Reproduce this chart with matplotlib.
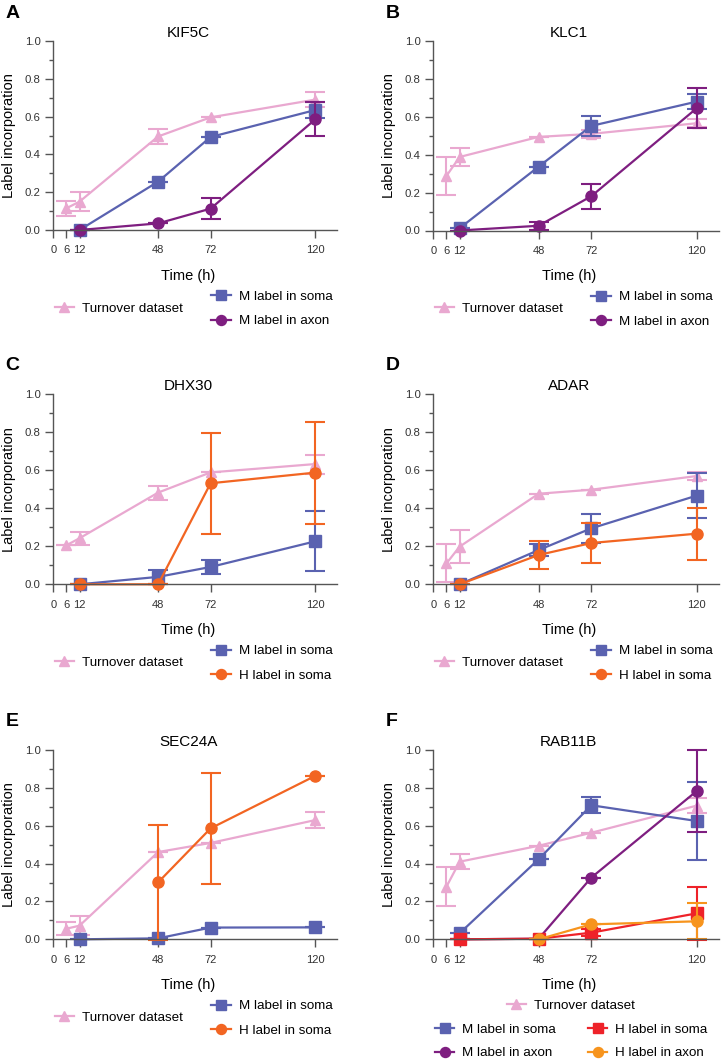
import matplotlib
matplotlib.use("Agg")
import matplotlib.pyplot as plt
from matplotlib.lines import Line2D

plt.rcParams['font.family'] = ['Liberation Sans', 'DejaVu Sans']

# time points (h)
x_ticks = [0, 6, 12, 48, 72, 120]
turn_t = [6, 12, 48, 72, 120]
lab_t = [12, 48, 72, 120]
late_t = [48, 72, 120]

# A  KIF5C
kif5c_turn = [0.115, 0.15, 0.495, 0.596, 0.69]
kif5c_turn_err = [0.04, 0.05, 0.04, 0.0, 0.04]
kif5c_m_soma = [0.0, 0.256, 0.492, 0.635]
kif5c_m_soma_err = [0.0, 0.0, 0.0, 0.04]
kif5c_m_axon = [0.0, 0.035, 0.113, 0.586]
kif5c_m_axon_err = [0.0, 0.0, 0.057, 0.09]

# B  KLC1
klc1_turn = [0.288, 0.388, 0.494, 0.51, 0.566]
klc1_turn_err = [0.1, 0.045, 0.0, 0.02, 0.02]
klc1_m_soma = [0.012, 0.337, 0.552, 0.68]
klc1_m_soma_err = [0.0, 0.0, 0.053, 0.04]
klc1_m_axon = [0.0, 0.025, 0.181, 0.645]
klc1_m_axon_err = [0.0, 0.02, 0.067, 0.105]

# C  DHX30
dhx30_turn = [0.205, 0.242, 0.482, 0.588, 0.632]
dhx30_turn_err = [0.0, 0.035, 0.037, 0.0, 0.05]
dhx30_m_soma = [0.0, 0.039, 0.091, 0.226]
dhx30_m_soma_err = [0.0, 0.035, 0.037, 0.158]
dhx30_h_soma = [0.0, 0.0, 0.531, 0.587]
dhx30_h_soma_err = [0.0, 0.0, 0.265, 0.268]

# D  ADAR
adar_turn = [0.11, 0.198, 0.476, 0.497, 0.569]
adar_turn_err = [0.1, 0.087, 0.0, 0.0, 0.02]
adar_m_soma = [0.0, 0.18, 0.294, 0.466]
adar_m_soma_err = [0.0, 0.03, 0.075, 0.117]
adar_h_soma = [0.0, 0.154, 0.217, 0.266]
adar_h_soma_err = [0.0, 0.076, 0.107, 0.137]

# E  SEC24A
sec24a_turn = [0.056, 0.072, 0.461, 0.509, 0.63]
sec24a_turn_err = [0.035, 0.05, 0.0, 0.0, 0.04]
sec24a_m_soma = [0.0, 0.005, 0.062, 0.063]
sec24a_m_soma_err = [0.0, 0.0, 0.0, 0.0]
sec24a_h_soma = [0.301, 0.586, 0.864]
sec24a_h_soma_err = [0.303, 0.295, 0.0]

# F  RAB11B
rab11b_turn = [0.278, 0.41, 0.494, 0.563, 0.706]
rab11b_turn_err = [0.103, 0.04, 0.0, 0.0, 0.04]
rab11b_m_soma = [0.032, 0.423, 0.708, 0.625]
rab11b_m_soma_err = [0.0, 0.0, 0.042, 0.205]
rab11b_m_axon = [0.0, 0.003, 0.326, 0.783]
rab11b_m_axon_err = [0.0, 0.0, 0.0, 0.218]
rab11b_h_soma = [0.0, 0.003, 0.035, 0.137]
rab11b_h_soma_err = [0.0, 0.0, 0.02, 0.14]
rab11b_h_axon = [0.0, 0.079, 0.095]
rab11b_h_axon_err = [0.0, 0.0, 0.095]

PINK = '#E9A8D0'
BLUE = '#5A62B0'
PURPLE = '#7E1E80'
ORANGE_RED = '#F26522'
RED = '#EE2229'
ORANGE = '#F7941D'
AXIS = '#555555'

STYLE = {
    'Turnover dataset': (PINK, '^', 7.5),
    'M label in soma': (BLUE, 's', 8),
    'M label in axon': (PURPLE, 'o', 8),
    'H label in soma': (ORANGE_RED, 'o', 8),
    'H label in soma F': (RED, 's', 8),
    'H label in axon': (ORANGE, 'o', 8),
}

W, H = 721, 1064
fig = plt.figure(figsize=(W / 100, H / 100), dpi=100)


def fpx(x, y):
    return x / W, 1 - y / H


def add_panel(left, top, width, height):
    x0, y1 = fpx(left, top)
    return fig.add_axes([x0, y1 - height / H, width / W, height / H])


def handle(key):
    c, m, s = STYLE[key]
    return Line2D([], [], color=c, marker=m, markersize=s * 0.9, lw=1.6)


def draw(ax, letter, title, series):
    for i, (t, v, e, key) in enumerate(series):
        c, m, s = STYLE[key]
        cont = ax.errorbar(t, v, yerr=e, color=c, marker=m, markersize=s,
                           lw=1.6, capsize=7, capthick=1.5, elinewidth=1.5)
        for art in cont.get_children():
            art.set_clip_on(False)
            art.set_zorder(2 + i * 0.1)
        cont[0].set_zorder(2 + i * 0.1 + 0.05)
    ax.set_xlim(0, 130)
    ax.set_ylim(0, 1.0)
    ax.spines['top'].set_visible(False)
    ax.spines['right'].set_visible(False)
    for sp in ('left', 'bottom'):
        ax.spines[sp].set_color(AXIS)
        ax.spines[sp].set_linewidth(1.0)
    ax.set_xticks(x_ticks)
    ax.set_yticks([0, 0.2, 0.4, 0.6, 0.8, 1.0])
    ax.set_yticks([0.1, 0.3, 0.5, 0.7, 0.9], minor=True)
    ax.set_yticklabels(['0.0', '0.2', '0.4', '0.6', '0.8', '1.0'])
    ax.tick_params(axis='x', length=6, width=1.0, color=AXIS, labelsize=8,
                   labelcolor='#333333', pad=5)
    ax.tick_params(axis='y', which='major', length=6, width=1.0, color=AXIS,
                   labelsize=8.2, labelcolor='#333333', pad=3)
    ax.tick_params(axis='y', which='minor', length=3, width=1.0, color=AXIS)
    ax.set_title(title, fontsize=11, pad=3, x=0.475)
    ax.set_xlabel('Time (h)', fontsize=10.5)
    ax.xaxis.set_label_coords(0.475, -0.205)
    ax.set_ylabel('Label incorporation', fontsize=10.5)
    ax.yaxis.set_label_coords(-0.13, 0.5)
    bb = ax.get_position()
    fig.text(bb.x0 - 48 / W, bb.y1 + 28 / H, letter, fontsize=14,
             fontweight='bold', va='center', ha='left')


LEG_KW = dict(frameon=False, fontsize=9.6, borderpad=0, borderaxespad=0,
              handlelength=1.45, handletextpad=0.6, loc='center left')


def two_legends(ax, left, bottom, right_keys):
    l1 = ax.legend([handle('Turnover dataset')], ['Turnover dataset'],
                   bbox_to_anchor=fpx(left + 1.5, bottom + 78.5),
                   bbox_transform=fig.transFigure, **LEG_KW)
    ax.add_artist(l1)
    labels = [k.replace(' F', '') for k in right_keys]
    ax.legend([handle(k) for k in right_keys], labels, labelspacing=0.9,
              bbox_to_anchor=fpx(left + 158, bottom + 79),
              bbox_transform=fig.transFigure, **LEG_KW)


# panel geometry in pixels: left, top, width, height
ax_a = add_panel(53.3, 41, 284, 189)
ax_b = add_panel(433.3, 41, 285.3, 189.5)
ax_c = add_panel(53.3, 394, 284, 190.3)
ax_d = add_panel(433.3, 394, 285.3, 190.3)
ax_e = add_panel(53.3, 750, 284, 189.3)
ax_f = add_panel(433.3, 750, 285.3, 189.3)

draw(ax_a, 'A', 'KIF5C', [
    (turn_t, kif5c_turn, kif5c_turn_err, 'Turnover dataset'),
    (lab_t, kif5c_m_soma, kif5c_m_soma_err, 'M label in soma'),
    (lab_t, kif5c_m_axon, kif5c_m_axon_err, 'M label in axon'),
])
two_legends(ax_a, 53.3, 230, ['M label in soma', 'M label in axon'])

draw(ax_b, 'B', 'KLC1', [
    (turn_t, klc1_turn, klc1_turn_err, 'Turnover dataset'),
    (lab_t, klc1_m_soma, klc1_m_soma_err, 'M label in soma'),
    (lab_t, klc1_m_axon, klc1_m_axon_err, 'M label in axon'),
])
two_legends(ax_b, 433.3, 230.5, ['M label in soma', 'M label in axon'])

draw(ax_c, 'C', 'DHX30', [
    (turn_t, dhx30_turn, dhx30_turn_err, 'Turnover dataset'),
    (lab_t, dhx30_m_soma, dhx30_m_soma_err, 'M label in soma'),
    (lab_t, dhx30_h_soma, dhx30_h_soma_err, 'H label in soma'),
])
two_legends(ax_c, 53.3, 584.3, ['M label in soma', 'H label in soma'])

draw(ax_d, 'D', 'ADAR', [
    (turn_t, adar_turn, adar_turn_err, 'Turnover dataset'),
    (lab_t, adar_m_soma, adar_m_soma_err, 'M label in soma'),
    (lab_t, adar_h_soma, adar_h_soma_err, 'H label in soma'),
])
two_legends(ax_d, 433.3, 584.3, ['M label in soma', 'H label in soma'])

draw(ax_e, 'E', 'SEC24A', [
    (turn_t, sec24a_turn, sec24a_turn_err, 'Turnover dataset'),
    (lab_t, sec24a_m_soma, sec24a_m_soma_err, 'M label in soma'),
    (late_t, sec24a_h_soma, sec24a_h_soma_err, 'H label in soma'),
])
two_legends(ax_e, 53.3, 939.3, ['M label in soma', 'H label in soma'])

draw(ax_f, 'F', 'RAB11B', [
    (turn_t, rab11b_turn, rab11b_turn_err, 'Turnover dataset'),
    (lab_t, rab11b_m_soma, rab11b_m_soma_err, 'M label in soma'),
    (lab_t, rab11b_m_axon, rab11b_m_axon_err, 'M label in axon'),
    (lab_t, rab11b_h_soma, rab11b_h_soma_err, 'H label in soma F'),
    (late_t, rab11b_h_axon, rab11b_h_axon_err, 'H label in axon'),
])
lf1 = ax_f.legend([handle('Turnover dataset')], ['Turnover dataset'],
                  bbox_to_anchor=fpx(506.7, 1005.7),
                  bbox_transform=fig.transFigure, **LEG_KW)
ax_f.add_artist(lf1)
ax_f.legend([handle(k) for k in ['M label in soma', 'M label in axon',
                                 'H label in soma F', 'H label in axon']],
            ['M label in soma', 'M label in axon',
             'H label in soma', 'H label in axon'],
            ncol=2, columnspacing=2.4, labelspacing=0.85,
            bbox_to_anchor=fpx(435, 1041.3),
            bbox_transform=fig.transFigure, **LEG_KW)

fig.savefig('out.png', dpi=100)
